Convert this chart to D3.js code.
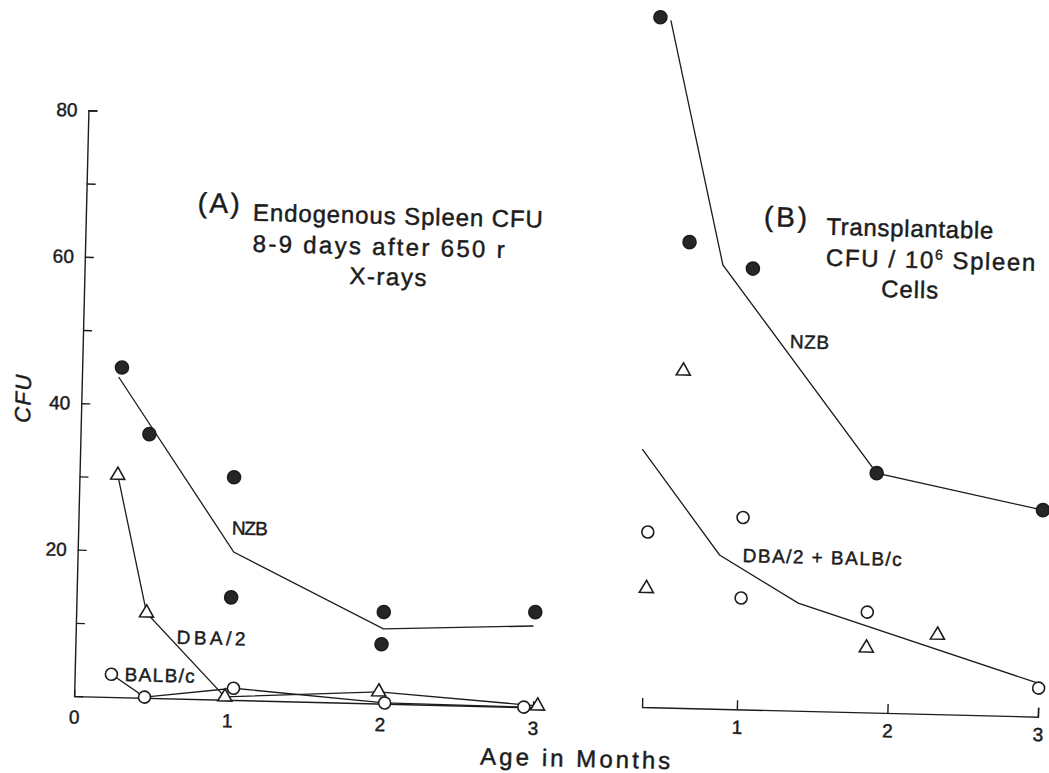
<!DOCTYPE html>
<html>
<head>
<meta charset="utf-8">
<script src="https://cdn.jsdelivr.net/npm/d3@7"></script>
<style>
  body { margin: 0; background: #fff; }
  svg { display: block; }
  text { font-family: "Liberation Sans", Arial, sans-serif; fill: #1c1c1c; stroke: #1c1c1c; stroke-width: 0.45px; }
</style>
</head>
<body>
<script>
// ticks
const monthTicks = [0, 1, 2, 3];
const monthTicksB = [1, 2, 3];
const cfuTicks = [20, 40, 60, 80];
const cfuMinor = [10, 30, 50, 70];

// (A) endogenous spleen CFU
const nzbA_month = [0.26, 0.45, 1.01, 1.01, 2.01, 2.0, 3.0];
const nzbA_cfu   = [45, 36, 30.4, 14, 12.5, 8.1, 13];
const nzbA_lineMonth = [0.24, 1.02, 2.01, 2.99];
const nzbA_lineCfu   = [43.7, 20.2, 10.2, 11.1];
const dbaA_month = [0.25, 0.46, 0.985, 1.99, 3.03];
const dbaA_cfu   = [30.3, 11.6, 0.4, 1.6, 0.2];
const balbA_month = [0.24, 0.46, 1.04, 2.03, 2.94];
const balbA_cfu   = [3.1, 0.1, 1.6, 0.1, 0];

// (B) transplantable CFU / 10^6 spleen cells
const nzbB_month = [0.38, 0.61, 1.035, 1.89, 3.0];
const nzbB_cfu   = [94.2, 63.6, 60.2, 32.7, 28.2];
const nzbB_lineMonth = [0.45, 0.835, 1.89, 3.0];
const nzbB_lineCfu   = [93.8, 60.6, 32.7, 28.2];
const dbaB_month = [0.59, 0.38, 1.85, 2.32];
const dbaB_cfu   = [46, 16.2, 8.8, 10.8];
const balbB_month = [0.38, 1.01, 1.01, 1.85, 3.0];
const balbB_cfu   = [23.9, 26.2, 15.2, 13.7, 3.9];
const mixB_lineMonth = [0.33, 0.86, 1.39, 2.99];
const mixB_lineCfu   = [35.2, 21.0, 14.7, 4.6];

const ink = '#1c1c1c';

const svg = d3.select('body').append('svg')
  .attr('width', 1049).attr('height', 773)
  .attr('viewBox', '0 0 1049 773');

// the scan is tilted a little
const g = svg.append('g').attr('transform', 'rotate(1.4,524,400)');

const xA = d3.scaleLinear().domain([0, 3]).range([81.5, 540.5]);
const yA = d3.scaleLinear().domain([0, 80]).range([707, 121]);
const xB = d3.scaleLinear().domain([0.37, 3]).range([649.5, 1045.5]);
const yB = d3.scaleLinear().domain([0, 80]).range([704, 118]);

const fmt = d3.format('d');

function styleAxis(sel) {
  sel.attr('font-family', null).attr('font-size', null);
  sel.selectAll('path, line').attr('stroke', ink).attr('stroke-width', 1.4);
  sel.selectAll('text').attr('font-size', 19).attr('fill', ink);
}

// left y axis
g.append('g')
  .attr('transform', `translate(${xA(0)},0)`)
  .call(d3.axisLeft(yA).tickValues(cfuTicks).tickFormat(fmt).tickSizeInner(-9).tickSizeOuter(-9).tickPadding(11))
  .call(styleAxis);
g.append('g')
  .attr('transform', `translate(${xA(0)},0)`)
  .call(d3.axisLeft(yA).tickValues(cfuMinor).tickFormat('').tickSizeInner(-9))
  .call(styleAxis)
  .select('.domain').remove();

// left x axis
g.append('g')
  .attr('transform', `translate(0,${yA(0)})`)
  .call(d3.axisBottom(xA).tickValues(monthTicks).tickFormat(fmt).tickSizeInner(-6).tickSizeOuter(0).tickPadding(14))
  .call(styleAxis);

// right x axis
g.append('g')
  .attr('transform', `translate(0,${yB(0)})`)
  .call(d3.axisBottom(xB).tickValues(monthTicksB).tickFormat(fmt).tickSizeInner(-9).tickSizeOuter(-9).tickPadding(11))
  .call(styleAxis);

function drawLine(xs, ys, xSc, ySc) {
  const line = d3.line().x(d => xSc(d[0])).y(d => ySc(d[1]));
  g.append('path')
    .attr('d', line(d3.zip(xs, ys)))
    .attr('fill', 'none')
    .attr('stroke', ink)
    .attr('stroke-width', 1.3);
}

function drawMarks(xs, ys, xSc, ySc, kind) {
  const data = d3.zip(xs, ys);
  if (kind === 'tri') {
    g.selectAll(null).data(data).join('path')
      .attr('d', d3.symbol(d3.symbolTriangle, 85)())
      .attr('transform', d => `translate(${xSc(d[0])},${ySc(d[1])})`)
      .attr('fill', '#fff').attr('stroke', ink).attr('stroke-width', 1.6);
  } else {
    g.selectAll(null).data(data).join('circle')
      .attr('cx', d => xSc(d[0])).attr('cy', d => ySc(d[1]))
      .attr('r', kind === 'dot' ? 6.5 : 6)
      .attr('fill', kind === 'dot' ? '#262626' : '#fff')
      .attr('stroke', ink).attr('stroke-width', 1.6);
  }
}

// panel A
drawLine(nzbA_lineMonth, nzbA_lineCfu, xA, yA);
drawLine(dbaA_month, dbaA_cfu, xA, yA);
drawLine(balbA_month, balbA_cfu, xA, yA);
drawMarks(nzbA_month, nzbA_cfu, xA, yA, 'dot');
drawMarks(dbaA_month, dbaA_cfu, xA, yA, 'tri');
drawMarks(balbA_month, balbA_cfu, xA, yA, 'ring');

// panel B
drawLine(nzbB_lineMonth, nzbB_lineCfu, xB, yB);
drawLine(mixB_lineMonth, mixB_lineCfu, xB, yB);
drawMarks(nzbB_month, nzbB_cfu, xB, yB, 'dot');
drawMarks(dbaB_month, dbaB_cfu, xB, yB, 'tri');
drawMarks(balbB_month, balbB_cfu, xB, yB, 'ring');

// text
function label(txt, x, y, size, len, anchor) {
  const t = g.append('text')
    .attr('x', x).attr('y', y)
    .attr('dy', '0.35em')
    .attr('font-size', size)
    .attr('text-anchor', anchor || 'start')
    .text(txt);
  if (len) t.attr('textLength', len).attr('lengthAdjust', 'spacing');
  return t;
}

label('(A)', 193, 210.5, 28, 42);
label('Endogenous Spleen CFU', 248.5, 219, 24, 290);
label('8-9 days after 650 r', 249, 250, 24, 252);
label('X-rays', 385, 280, 24, 77, 'middle');

label('(B)', 759.5, 210.5, 28, 43);
label('Transplantable', 822, 219, 24, 167);
const cfuLine = g.append('text')
  .attr('x', 822.5).attr('y', 250).attr('dy', '0.35em')
  .attr('font-size', 24).attr('letter-spacing', 1.6);
cfuLine.append('tspan').text('CFU / 10');
cfuLine.append('tspan').attr('dy', -9).attr('font-size', 14).text('6');
cfuLine.append('tspan').attr('dy', 9).text(' Spleen');
label('Cells', 907, 280, 24, 57, 'middle');

label('NZB', 253, 535, 19, 36, 'middle');
label('DBA/2', 217, 645.5, 19, 69, 'middle');
label('BALB/c', 166.5, 684, 19, 70, 'middle');
label('NZB', 808, 335, 19, 39, 'middle');
label('DBA/2 + BALB/c', 826, 550, 19, 159, 'middle');

label('Age  in  Months', 584, 757, 24, 190, 'middle');

g.append('text')
  .attr('transform', 'translate(23,411) rotate(-90)')
  .attr('dy', '0.35em')
  .attr('text-anchor', 'middle')
  .attr('font-size', 22)
  .attr('font-style', 'italic')
  .attr('textLength', 48)
  .text('CFU');
</script>
</body>
</html>
